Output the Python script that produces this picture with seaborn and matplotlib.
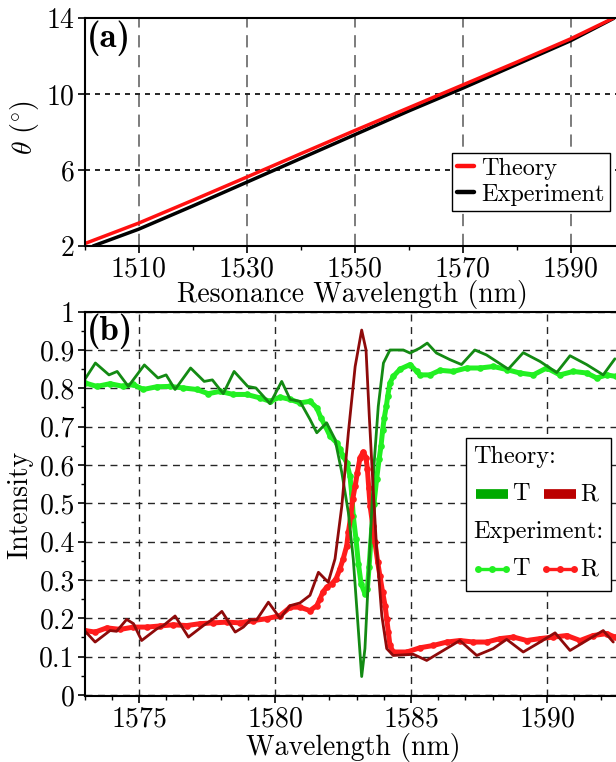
import numpy as np
import pandas as pd
import matplotlib
matplotlib.use("Agg")
import matplotlib.pyplot as plt
import seaborn as sns
from matplotlib.lines import Line2D
from matplotlib.offsetbox import (AnchoredOffsetbox, VPacker, HPacker,
                                  TextArea, DrawingArea)

# ── panel (a): resonance angle vs wavelength ──────────────
theory_nm  = [1500, 1510, 1520, 1530, 1540, 1550, 1560, 1570, 1580, 1590, 1598]
theory_deg = [2.12, 3.20, 4.40, 5.62, 6.85, 8.07, 9.27, 10.47, 11.67, 12.90, 14.0]
exper_nm   = [1501.6, 1510, 1520, 1530, 1540, 1550, 1560, 1570, 1580, 1590, 1598]
exper_deg  = [2.0, 2.88, 4.10, 5.35, 6.60, 7.85, 9.10, 10.30, 11.55, 12.80, 13.98]

# ── panel (b): spectra ────────────────────────────────────
expT_nm = [1573.02, 1573.45, 1573.94, 1574.43, 1574.79, 1575.16, 1575.65, 1576.14,
           1576.63, 1577.12, 1577.55, 1577.98, 1578.47, 1578.96, 1579.45, 1579.82,
           1580.19, 1580.56, 1580.92, 1581.29, 1581.54, 1581.69, 1581.84, 1582.03,
           1582.27, 1582.39, 1582.51, 1582.64, 1582.76, 1582.82, 1582.88, 1582.98,
           1583.07, 1583.17, 1583.31, 1583.40, 1583.46, 1583.56, 1583.64, 1583.74,
           1583.83, 1583.90, 1583.96, 1584.02, 1584.10, 1584.15, 1584.23, 1584.35,
           1584.60, 1584.97, 1585.21, 1585.33, 1585.70, 1586.07, 1586.56, 1587.05,
           1587.54, 1588.03, 1588.52, 1589.00, 1589.50, 1589.99, 1590.48, 1590.97,
           1591.46, 1591.83, 1592.20, 1592.54]
expT_val = [0.814, 0.805, 0.812, 0.805, 0.810, 0.797, 0.804, 0.805,
            0.801, 0.797, 0.786, 0.792, 0.784, 0.784, 0.775, 0.766,
            0.777, 0.771, 0.762, 0.766, 0.749, 0.723, 0.703, 0.675,
            0.658, 0.641, 0.623, 0.606, 0.571, 0.528, 0.467, 0.407,
            0.342, 0.290, 0.264, 0.277, 0.333, 0.433, 0.498, 0.563,
            0.615, 0.649, 0.690, 0.723, 0.755, 0.781, 0.814, 0.831,
            0.850, 0.862, 0.844, 0.835, 0.835, 0.847, 0.844, 0.853,
            0.853, 0.857, 0.849, 0.840, 0.835, 0.853, 0.835, 0.844,
            0.840, 0.827, 0.835, 0.831]

expR_nm = [1573.02, 1573.39, 1573.82, 1574.31, 1574.80, 1575.29, 1575.78, 1576.27,
           1576.76, 1577.25, 1577.74, 1578.23, 1578.72, 1579.21, 1579.70, 1580.19,
           1580.56, 1580.92, 1581.29, 1581.54, 1581.66, 1581.76, 1581.90, 1582.09,
           1582.25, 1582.39, 1582.51, 1582.64, 1582.70, 1582.79, 1582.86, 1582.95,
           1583.03, 1583.13, 1583.25, 1583.35, 1583.40, 1583.45, 1583.50, 1583.60,
           1583.68, 1583.78, 1583.86, 1583.96, 1584.05, 1584.11, 1584.17, 1584.23,
           1584.35, 1584.85, 1585.33, 1585.82, 1586.32, 1586.80, 1587.30, 1587.79,
           1588.28, 1588.77, 1589.26, 1589.75, 1590.24, 1590.73, 1591.22, 1591.70,
           1592.20, 1592.50]
expR_val = [0.168, 0.164, 0.175, 0.171, 0.177, 0.177, 0.180, 0.183,
            0.181, 0.186, 0.188, 0.190, 0.188, 0.194, 0.199, 0.207,
            0.229, 0.229, 0.220, 0.233, 0.251, 0.268, 0.281, 0.290,
            0.303, 0.329, 0.355, 0.389, 0.424, 0.467, 0.511, 0.545,
            0.580, 0.619, 0.634, 0.619, 0.589, 0.541, 0.493, 0.441,
            0.398, 0.346, 0.311, 0.268, 0.233, 0.199, 0.164, 0.129,
            0.112, 0.112, 0.123, 0.129, 0.138, 0.142, 0.138, 0.138,
            0.147, 0.151, 0.142, 0.147, 0.151, 0.155, 0.142, 0.155,
            0.160, 0.151]

thT_nm = [1573.00, 1573.40, 1573.90, 1574.20, 1574.61, 1575.20, 1575.70, 1576.00,
          1576.33, 1576.90, 1577.40, 1577.70, 1578.10, 1578.50, 1579.00, 1579.30,
          1579.82, 1580.25, 1580.56, 1580.92, 1581.29, 1581.54, 1581.90, 1582.21,
          1582.46, 1582.70, 1582.88, 1583.03, 1583.19, 1583.31, 1583.40, 1583.52,
          1583.64, 1583.80, 1583.99, 1584.23, 1584.72, 1584.97, 1585.33, 1585.60,
          1585.94, 1586.43, 1586.86, 1587.35, 1587.78, 1588.15, 1588.58, 1589.13,
          1589.75, 1590.36, 1590.85, 1591.46, 1592.07, 1592.50]
thT_val = [0.822, 0.866, 0.835, 0.844, 0.805, 0.861, 0.827, 0.835,
           0.797, 0.853, 0.818, 0.822, 0.786, 0.844, 0.805, 0.801,
           0.760, 0.818, 0.771, 0.766, 0.719, 0.684, 0.710, 0.667,
           0.580, 0.476, 0.355, 0.207, 0.048, 0.121, 0.251, 0.424,
           0.597, 0.753, 0.866, 0.900, 0.900, 0.892, 0.905, 0.918,
           0.892, 0.875, 0.862, 0.900, 0.887, 0.870, 0.850, 0.893,
           0.870, 0.841, 0.885, 0.862, 0.835, 0.877]

thR_nm = [1573.00, 1573.39, 1573.94, 1574.18, 1574.55, 1574.80, 1575.10, 1575.65,
          1575.90, 1576.33, 1576.82, 1577.37, 1577.74, 1578.05, 1578.54, 1578.84,
          1579.10, 1579.33, 1579.76, 1580.19, 1580.56, 1580.92, 1581.29, 1581.60,
          1581.96, 1582.21, 1582.46, 1582.70, 1582.95, 1583.19, 1583.35, 1583.47,
          1583.60, 1583.74, 1583.93, 1584.11, 1584.35, 1585.09, 1585.58, 1586.19,
          1586.80, 1587.42, 1588.03, 1588.52, 1589.13, 1589.75, 1590.30, 1590.85,
          1591.46, 1592.07, 1592.44]
thR_val = [0.168, 0.138, 0.168, 0.166, 0.197, 0.186, 0.142, 0.172,
           0.181, 0.206, 0.151, 0.181, 0.199, 0.218, 0.164, 0.177,
           0.196, 0.196, 0.242, 0.200, 0.233, 0.240, 0.260, 0.320,
           0.294, 0.355, 0.493, 0.684, 0.857, 0.952, 0.900, 0.727,
           0.554, 0.381, 0.207, 0.121, 0.103, 0.106, 0.090, 0.116,
           0.142, 0.103, 0.121, 0.145, 0.112, 0.138, 0.162, 0.116,
           0.142, 0.168, 0.138]

C_TH_T, C_TH_R = "#138a13", "#8e0a0a"
C_EX_T, C_EX_R = "#22f022", "#ff1c1c"

# ── style ─────────────────────────────────────────────────
sns.set_theme(style="ticks")
plt.rcParams.update({
    "font.family": "cmr10",
    "mathtext.fontset": "cm",
    "axes.formatter.use_mathtext": True,
    "axes.unicode_minus": False,
    "axes.edgecolor": "black",
    "axes.linewidth": 1.5,
    "xtick.color": "black", "ytick.color": "black",
    "text.color": "black", "axes.labelcolor": "black",
})

fig = plt.figure(figsize=(6.16, 7.62), dpi=100)
ax_a = fig.add_axes([0.1372, 0.6772, 0.8766, 0.2992])
ax_b = fig.add_axes([0.1372, 0.0860, 0.8831, 0.5050])

for ax in (ax_a, ax_b):
    ax.set_axisbelow(True)
    ax.tick_params(which="major", direction="out", length=5, width=1.2,
                   labelsize=20, pad=2, bottom=True, left=True)
    ax.tick_params(which="minor", direction="out", length=3, width=1.0,
                   bottom=True, left=True)
    ax.spines["right"].set_visible(False)

# ── (a) ───────────────────────────────────────────────────
sns.lineplot(x=exper_nm, y=exper_deg, ax=ax_a, color="black", lw=2.5,
             estimator=None, sort=False, label="Experiment")
sns.lineplot(x=theory_nm, y=theory_deg, ax=ax_a, color="#ff1010", lw=2.5,
             estimator=None, sort=False, label="Theory")
ax_a.set_xlim(1500, 1600); ax_a.set_ylim(2, 14)
ax_a.set_xticks([1510, 1530, 1550, 1570, 1590])
ax_a.set_xticks([1500, 1520, 1540, 1560, 1580, 1600], minor=True)
ax_a.set_yticks([2, 6, 10, 14])
ax_a.xaxis.grid(True, which="major", ls=(0, (8, 5)), color="0.35", lw=1.1)
ax_a.yaxis.grid(True, which="major", ls=(0, (3, 3)), color="black", lw=1.2)
ax_a.set_xlabel("Resonance Wavelength (nm)", fontsize=20)
ax_a.set_ylabel(r"$\theta\ (^{\circ})$", fontsize=20)
ax_a.xaxis.set_label_coords(0.497, -0.15)
ax_a.yaxis.set_label_coords(-0.08, 0.52)
ax_a.text(0.004, 0.99, "(a)", transform=ax_a.transAxes, family="cmb10",
          ha="left", va="top", fontsize=25)
h, l = ax_a.get_legend_handles_labels()
leg = ax_a.legend(h[::-1], l[::-1], loc="upper left", bbox_to_anchor=(0.681, 0.408),
                  fontsize=17.5, handlelength=0.7, handletextpad=0.3,
                  borderpad=0.2, labelspacing=0.15, borderaxespad=0,
                  frameon=True, fancybox=False, edgecolor="black", framealpha=1)
leg.get_frame().set_linewidth(1.0)
for ln in leg.get_lines():
    ln.set_linewidth(3.2)

# ── (b) ───────────────────────────────────────────────────
mk = dict(marker="o", markersize=4.8, markeredgewidth=0)
sns.lineplot(x=expT_nm, y=expT_val, ax=ax_b, color=C_EX_T, lw=3.6,
             estimator=None, sort=False, **mk)
sns.lineplot(x=expR_nm, y=expR_val, ax=ax_b, color=C_EX_R, lw=3.6,
             estimator=None, sort=False, **mk)
sns.lineplot(x=thT_nm, y=thT_val, ax=ax_b, color=C_TH_T, lw=2.0,
             estimator=None, sort=False)
sns.lineplot(x=thR_nm, y=thR_val, ax=ax_b, color=C_TH_R, lw=2.0,
             estimator=None, sort=False)
ax_b.set_xlim(1573, 1593); ax_b.set_ylim(-0.004, 1.0)
ax_b.set_xticks([1575, 1580, 1585, 1590])
ax_b.set_xticks(np.arange(1573, 1594, 1), minor=True)
ax_b.set_yticks(np.round(np.arange(0, 1.01, 0.1), 1))
ax_b.set_yticks(np.round(np.arange(0.05, 1.0, 0.1), 2), minor=True)
ax_b.yaxis.set_major_formatter(plt.FuncFormatter(lambda v, _: f"{v:g}"))
ax_b.grid(True, which="major", ls=(0, (5, 4)), color="0.15", lw=1.0)
ax_b.set_xlabel("Wavelength (nm)", fontsize=20)
ax_b.set_ylabel("Intensity", fontsize=20)
ax_b.xaxis.set_label_coords(0.495, -0.095)
ax_b.yaxis.set_label_coords(-0.095, 0.497)
ax_b.text(0.004, 0.995, "(b)", transform=ax_b.transAxes, family="cmb10",
          ha="left", va="top", fontsize=25)

# custom two-column legend for (b)
def key(color, lw, marker=None):
    da = DrawingArea(23, 8, 0, 0)
    if marker:
        da.add_artist(Line2D([1.5, 11.5, 21.5], [4, 4, 4], color=color, lw=2.4,
                             marker=marker, markersize=5, markeredgewidth=0))
    else:
        da.add_artist(Line2D([0, 23], [4, 4], color=color, lw=lw,
                             solid_capstyle="butt"))
    return da

tp = dict(fontsize=17.5)

def entry(da, txt):
    return HPacker(children=[da, TextArea(txt, textprops=tp)],
                   align="center", pad=0, sep=3)

row_th = HPacker(children=[entry(key("#00aa00", 7), "T"),
                           entry(key("#bb0000", 7), "R")],
                 align="center", pad=0, sep=10)
row_ex = HPacker(children=[entry(key(C_EX_T, 2, "o"), "T"),
                           entry(key(C_EX_R, 2, "o"), "R")],
                 align="center", pad=0, sep=10)
box = VPacker(children=[TextArea("Theory:", textprops=tp),
                        HPacker(children=[row_th], pad=2, sep=0),
                        TextArea("Experiment:", textprops=tp),
                        HPacker(children=[row_ex], pad=2, sep=0)],
              align="left", pad=0, sep=9)
anch = AnchoredOffsetbox(loc="upper left", child=box, pad=0.5, borderpad=0,
                         frameon=True, bbox_to_anchor=(0.701, 0.671),
                         bbox_transform=ax_b.transAxes)
anch.patch.set_boxstyle("square,pad=0")
anch.patch.set_edgecolor("black")
anch.patch.set_linewidth(1.0)
ax_b.add_artist(anch)

fig.savefig("out.png", dpi=100)
